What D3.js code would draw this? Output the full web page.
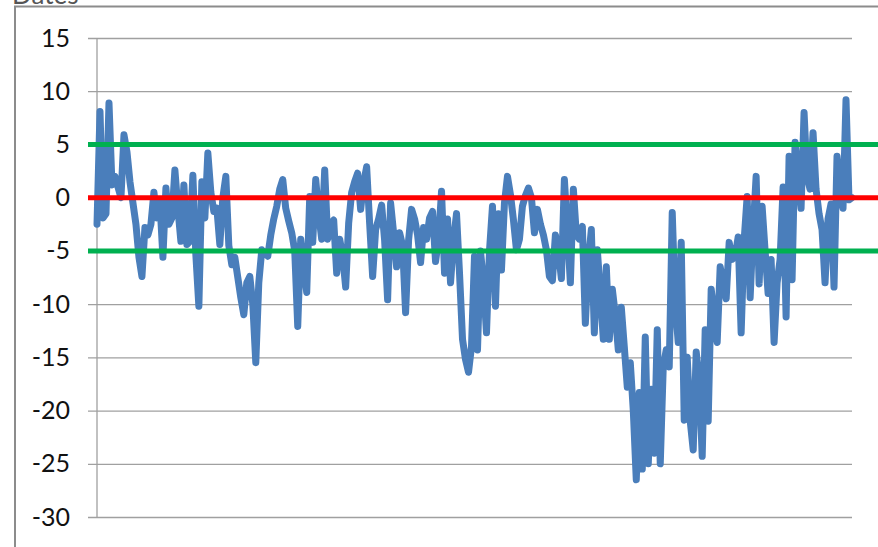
<!doctype html>
<html>
<head>
<meta charset="utf-8">
<style>
    body { margin: 0; background: #fff; }
    .tick text { font-family: Lato, "Open Sans", sans-serif; font-size: 25px; fill: #111; }
    .grid line { stroke: #a0a0a0; stroke-width: 1.3; }
</style>
<script src="https://cdn.jsdelivr.net/npm/d3@7"></script>
</head>
<body>
<svg id="chart" width="878" height="547"></svg>
<script>
// tick labels of the value axis
var yTicks = [15, 10, 5, 0, -5, -10, -15, -20, -25, -30];
// band limits drawn as flat lines
var bandUpper = 5, bandZero = 0, bandLower = -5;
// series, one value per date
var values = [
    -2.5, 8.1, -1.9, -1.5, 8.9, 1.2, 2.0, 1.0, 0, 5.9,
    4.3, 1.5, -0.5, -2.5, -5.6, -7.4, -2.8, -3.5, -2.5, 0.5,
    -1.9, -0.4, -5.6, 0.9, -2.5, -1.9, 2.6, -1.0, -4.1, 1.2,
    -4.4, -4.1, 2.1, -5.4, -10.2, 1.5, -1.9, 4.2, 0.5, -1.3,
    -1.0, -4.4, 0, 2.0, -4.5, -6.3, -5.6, -7.5, -9.4, -11,
    -8, -7.4, -10, -15.5, -8, -4.9, -5.2, -5.5, -3.5, -2,
    -0.8, 0.8, 1.7, -1.0, -2.2, -3.3, -5.0, -12.1, -3.9, -6.5,
    -8.9, 0.1, -4.2, 1.7, -1.5, -3.9, 2.6, -3.9, -2.5, -2.1,
    -7.1, -3.9, -5.5, -8.4, -2.4, 0.5, 1.5, 2.3, -1.1, 1.4,
    2.9, -2.4, -7.4, -3.0, -2, -0.7, -4.0, -9.6, -0.5, -3.3,
    -6.5, -3.3, -4.5, -10.8, -4, -1.1, -2.0, -3.5, -6.1, -2.8,
    -3.9, -1.9, -1.3, -6, -3.9, 0.6, -7.1, -2, -8, -4,
    -1.5, -7.1, -13.3, -15.2, -16.4, -14, -5.5, -14.3, -5, -8,
    -12.7, -5, -0.8, -10.2, -1.5, -6.8, -0.5, 2.0, 0.3, -2.1,
    -4.9, -3.9, -0.8, 0.2, 0.9, 0, -3.3, -1.1, -2.5, -3.5,
    -4.9, -7.4, -7.8, -3.5, -5, -7.6, 1.7, -3, -8, 0.8,
    -3.5, -3.9, -2.7, -11.8, -6, -3, -12.7, -4.9, -9, -13.3,
    -6.5, -13.3, -8.6, -11, -14.3, -10.3, -14, -17.8, -15.5, -20,
    -26.5, -18.3, -25.5, -13.1, -25, -18, -24, -12.4, -25, -15.9,
    -14.3, -15.9, -1.4, -10, -13.6, -4.2, -20.9, -15, -21, -23.7,
    -14.5, -17, -24.3, -12.4, -21, -8.6, -11, -13.6, -6.5, -8,
    -9.5, -4.2, -5.8, -5.5, -3.7, -12.7, -4, 0.1, -9.4, -3,
    2, -8.1, -0.8, -5, -9, -5.8, -13.6, -8, -5.8, 1,
    -11.2, 3.9, -7.7, 5.2, 2, -1, 8, 2, 0.8, 6.1,
    0.8, -1.5, -3, -8, -2, -0.6, -8.4, 3.9, 1, -1,
    9.2, -0.2, 0
];

var svg = d3.select("#chart");

var left = 97, right = 852, gridLeft = 88;

var x = d3.scaleLinear().domain([0, values.length - 1]).range([left, right]);
var y = d3.scaleLinear().domain([-30, 15]).range([517, 38]);

// frame of the chart area
svg.append("path")
   .attr("d", "M15,547V6.5H878")
   .attr("fill", "none")
   .attr("stroke", "#8c8c8c")
   .attr("stroke-width", 2);

// title, mostly above the picture like in the original
svg.append("text")
   .attr("x", 12)
   .attr("y", 4)
   .attr("font-family", "Lato, sans-serif")
   .attr("font-size", "26px")
   .attr("fill", "#555")
   .text("Dates");

// gridlines + tick labels (plain hyphen for negatives)
svg.append("g")
   .attr("class", "grid")
   .attr("transform", "translate(" + gridLeft + ",0)")
   .call(d3.axisLeft(y).tickValues(yTicks)
        .tickFormat(function(d) { return String(d); })
        .tickSize(-(right - gridLeft)).tickPadding(18))
   .call(function(g) { g.select(".domain").remove(); });

// value axis line
svg.append("line")
   .attr("x1", left).attr("x2", left)
   .attr("y1", y(15)).attr("y2", y(-30))
   .attr("stroke", "#a0a0a0")
   .attr("stroke-width", 1.3);

var line = d3.line()
    .x(function(d, i) { return x(i); })
    .y(function(d) { return y(d); });

svg.append("path")
   .datum(values)
   .attr("d", line)
   .attr("fill", "none")
   .attr("stroke", "#4a7ebb")
   .attr("stroke-width", 7)
   .attr("stroke-linejoin", "round")
   .attr("stroke-linecap", "round");

// band lines sit on top of the series
var bands = [
    { v: bandUpper, c: "#00b050" },
    { v: bandLower, c: "#00b050" },
    { v: bandZero, c: "#ff0000" }
];
svg.selectAll(".band")
   .data(bands)
   .enter().append("line")
   .attr("class", "band")
   .attr("x1", gridLeft).attr("x2", 878)
   .attr("y1", function(d) { return y(d.v); })
   .attr("y2", function(d) { return y(d.v); })
   .attr("stroke", function(d) { return d.c; })
   .attr("stroke-width", 5);
</script>
</body>
</html>
